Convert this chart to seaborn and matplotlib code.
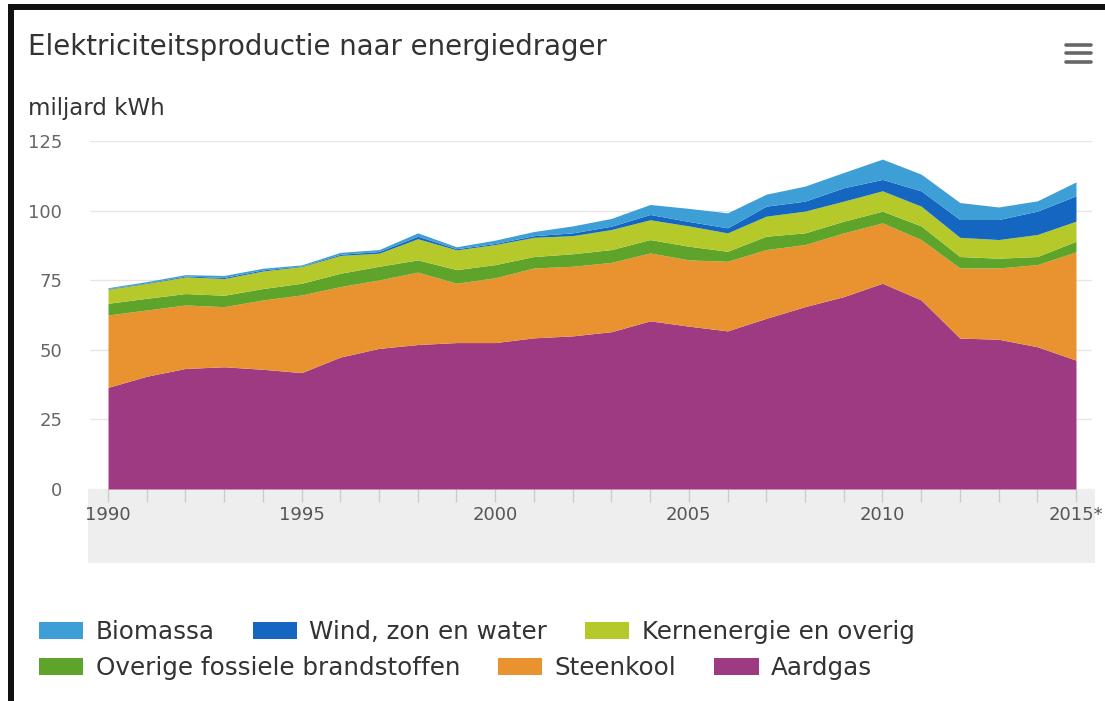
import matplotlib
matplotlib.use("Agg")
import matplotlib.pyplot as plt
import pandas as pd
import seaborn as sns
from matplotlib.patches import Patch, Rectangle
from matplotlib.lines import Line2D

# data (miljard kWh)
jaren = list(range(1990, 2016))
aardgas = [36.5, 40.5, 43.3, 43.9, 43.0, 41.8, 47.4, 50.5, 51.9, 52.6, 52.6, 54.3, 55.0,
           56.5, 60.4, 58.5, 56.8, 61.3, 65.5, 69.1, 73.9, 67.9, 54.2, 53.8, 51.1, 46.3]
steenkool = [26.0, 23.8, 22.8, 21.6, 24.9, 27.9, 25.3, 24.6, 26.0, 21.3, 23.3, 25.1, 25.0,
             24.9, 24.4, 23.8, 25.0, 24.7, 22.3, 22.9, 21.7, 21.7, 25.2, 25.6, 29.5, 38.9]
overige_fossiel = [4.2, 4.2, 4.1, 4.1, 4.1, 4.2, 4.8, 4.9, 4.4, 4.9, 4.7, 4.1, 4.5,
                   4.6, 4.8, 4.9, 3.6, 4.8, 4.2, 4.2, 4.2, 4.9, 4.1, 3.5, 2.9, 3.8]
kernenergie = [5.1, 5.3, 6.0, 6.0, 6.3, 6.0, 6.4, 4.7, 7.6, 7.1, 7.2, 6.9, 6.5,
               7.2, 7.1, 7.3, 6.6, 7.2, 7.8, 7.2, 7.3, 7.1, 6.9, 6.7, 7.9, 7.2]
wind_zon_water = [0.2, 0.2, 0.3, 0.4, 0.4, 0.2, 0.4, 0.6, 0.9, 0.4, 0.4, 0.6, 1.0,
                  1.2, 1.9, 1.6, 1.8, 3.6, 3.6, 4.8, 4.1, 5.5, 6.4, 7.2, 8.4, 9.1]
biomassa = [0.3, 0.5, 0.5, 0.7, 0.6, 0.4, 0.7, 0.7, 1.2, 0.7, 1.2, 1.5, 2.5,
            2.8, 3.6, 4.7, 5.4, 4.3, 5.4, 5.5, 7.3, 6.0, 6.1, 4.5, 3.7, 5.0]

xtick_jaren = [1990, 1995, 2000, 2005, 2010, 2015]
xtick_labels = ["1990", "1995", "2000", "2005", "2010", "2015*"]
yticks = [0, 25, 50, 75, 100, 125]

df = pd.DataFrame({
    "jaar": jaren,
    "Aardgas": aardgas,
    "Steenkool": steenkool,
    "Overige fossiele brandstoffen": overige_fossiel,
    "Kernenergie en overig": kernenergie,
    "Wind, zon en water": wind_zon_water,
    "Biomassa": biomassa,
})

reeksen = ["Aardgas", "Steenkool", "Overige fossiele brandstoffen",
           "Kernenergie en overig", "Wind, zon en water", "Biomassa"]
kleuren = {
    "Aardgas": "#9e3a81",
    "Steenkool": "#e8932f",
    "Overige fossiele brandstoffen": "#5ea32a",
    "Kernenergie en overig": "#b5c92b",
    "Wind, zon en water": "#1566c0",
    "Biomassa": "#3e9fd6",
}

sns.set_theme(style="white")
plt.rcParams["font.family"] = ["DejaVu Sans"]

W, H = 1105, 701
fig = plt.figure(figsize=(W / 100, H / 100), dpi=100)
fig.patch.set_facecolor("white")


def fx(px):
    return px / W


def fy(py):
    return 1 - py / H


ax = fig.add_axes([fx(90), fy(489), fx(1092) - fx(90), fy(141) - fy(489)])
ax.stackplot(df["jaar"], [df[r] for r in reeksen],
             colors=[kleuren[r] for r in reeksen], linewidth=0, zorder=2)

ax.set_xlim(1990 - 18 / 38.7, 2015 + 16 / 38.7)
ax.set_ylim(0, 125)
ax.set_yticks(yticks)
ax.set_yticklabels([str(v) for v in yticks], fontsize=13, color="#666666")
ax.yaxis.grid(True, color="#e6e6e6", linewidth=1)
ax.set_axisbelow(True)
ax.tick_params(axis="y", length=0, pad=20)

ax.set_xticks(jaren, minor=True)
ax.set_xticks(xtick_jaren)
ax.set_xticklabels(xtick_labels, fontsize=13, color="#555555")
ax.tick_params(axis="x", which="both", direction="out", length=9, width=1,
               color="#cccccc", pad=3, bottom=True)
for s in ax.spines.values():
    s.set_visible(False)
ax.set_xlabel("")
ax.set_ylabel("")

# grey navigator band under the axis
fig.add_artist(Rectangle((fx(88), fy(563)), fx(1095) - fx(88), fy(489) - fy(563),
                         transform=fig.transFigure, facecolor="#eeeeee",
                         edgecolor="none", zorder=0))

# titles
fig.text(fx(28), fy(47), "Elektriciteitsproductie naar energiedrager",
         fontsize=19.9, color="#333333", ha="left", va="center")
fig.text(fx(28), fy(108), "miljard kWh", fontsize=16.5, color="#333333",
         ha="left", va="center")

# menu icon
for py in [45, 53, 62]:
    fig.add_artist(Line2D([fx(1066), fx(1091)], [fy(py), fy(py)],
                          transform=fig.transFigure, color="#666666",
                          linewidth=2.6, solid_capstyle="round"))

# screenshot frame
fig.add_artist(Rectangle((fx(10), fy(10)), 1, fy(4) - fy(10),
                         transform=fig.transFigure, facecolor="#111111",
                         edgecolor="none"))
fig.add_artist(Rectangle((fx(8), 0), fx(14) - fx(8), fy(4),
                         transform=fig.transFigure, facecolor="#111111",
                         edgecolor="none"))

# legend in two rows
rij1 = ["Biomassa", "Wind, zon en water", "Kernenergie en overig"]
rij2 = ["Overige fossiele brandstoffen", "Steenkool", "Aardgas"]
for rij, py in [(rij1, 632), (rij2, 668)]:
    handles = [Patch(facecolor=kleuren[r], edgecolor="none", label=r) for r in rij]
    fig.legend(handles=handles, loc="center left", bbox_to_anchor=(fx(39), fy(py)),
               ncol=3, frameon=False, fontsize=17.7, borderpad=0, borderaxespad=0,
               handlelength=1.8, handleheight=0.65, handletextpad=0.5,
               columnspacing=1.55, labelcolor="#333333")

fig.savefig("out.png", dpi=100)
